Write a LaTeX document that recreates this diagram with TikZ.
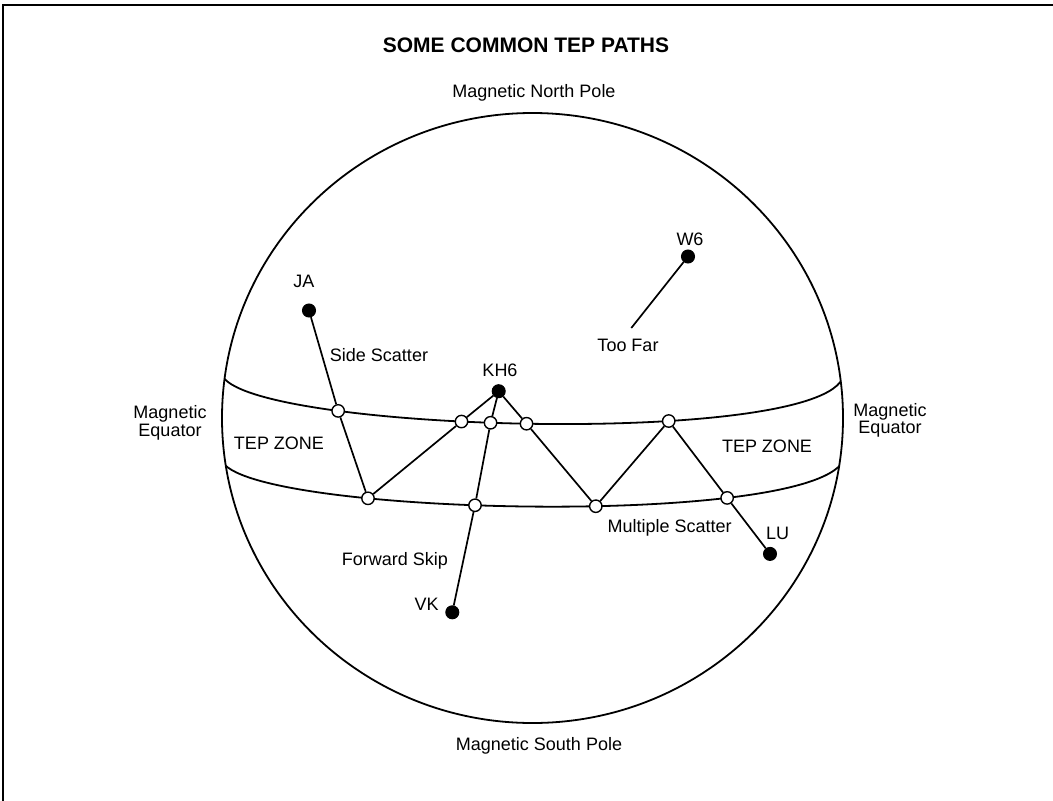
\documentclass[tikz,border=0pt]{standalone}
\usepackage{fontspec}
\setmainfont{Liberation Sans}
\begin{document}
\begin{tikzpicture}[x=1pt,y=-1pt,
  lbl/.style={font=\fontsize{18}{17.5}\selectfont, inner sep=0pt, anchor=base},
  ttl/.style={font=\bfseries\fontsize{21}{21}\selectfont, inner sep=0pt, anchor=base},
  station/.style={circle, fill=black, draw=black, line width=1pt, inner sep=0pt, minimum size=13pt},
  hop/.style={circle, fill=white, draw=black, line width=1.4pt, inner sep=0pt, minimum size=12.4pt},
  link/.style={line width=1.7pt},
  band/.style={line width=1.8pt},
  frame/.style={line width=2pt}]
\fill[white] (0,0) rectangle (1053,801);
\useasboundingbox (0,0) rectangle (1053,801);
\draw[frame] (3,801) -- (3,5) -- (1053,5);

\node[ttl] (title) at (526,52) {SOME COMMON TEP PATHS};
\node[lbl] (north) at (534,97.5) {Magnetic North Pole};
\node[lbl] (south) at (539,750) {Magnetic South Pole};

% globe
\draw[band] (532.5,418) ellipse [x radius=310.5pt, y radius=305pt];

% equator band (TEP zone)
\begin{scope}
  \clip (532.5,418) ellipse [x radius=310.5pt, y radius=305pt];
  \draw[band] (221,371) .. controls (221,432.4) and (844,450.1) .. (844,372)
    node[hop,pos=0.2773] (U1) {}
    node[hop,pos=0.4234] (U2) {}
    node[hop,pos=0.455] (U3) {}
    node[hop,pos=0.4936] (U4) {}
    node[hop,pos=0.6503] (U5) {};
  \draw[band] (221,457) .. controls (221,516.4) and (845,530.8) .. (845,454)
    node[hop,pos=0.3153] (L1) {}
    node[hop,pos=0.4377] (L2) {}
    node[hop,pos=0.5675] (L3) {}
    node[hop,pos=0.722] (L4) {};
\end{scope}

% stations
\node[station] (JA) at (309,310.5) {};
\node[station] (KH6) at (498.7,391.2) {};
\node[station] (W6) at (688,256.5) {};
\node[station] (VK) at (452.3,612.3) {};
\node[station] (LU) at (770,553.9) {};
\coordinate (far) at (631.3,328);

% paths
\draw[link] (JA) -- (U1) -- (L1) -- (U2) -- (KH6);
\draw[link] (KH6) -- (U3) -- (L2) -- (VK);
\draw[link] (KH6) -- (U4) -- (L3) -- (U5) -- (L4) -- (LU);
\draw[link] (W6) -- (far);

% labels
\node[lbl] (tJA) at (304,287) {JA};
\node[lbl] (tW6) at (690,245) {W6};
\node[lbl] (tFar) at (628,351) {Too Far};
\node[lbl] (tSide) at (379,361) {Side Scatter};
\node[lbl] (tKH6) at (500,376) {KH6};
\node[lbl] (tFwd) at (395,565) {Forward Skip};
\node[lbl] (tVK) at (426.7,610) {VK};
\node[lbl] (tMult) at (669.7,532.7) {Multiple Scatter};
\node[lbl] (tLU) at (777.7,539.3) {LU};
\node[lbl] (tz1) at (279,449.5) {TEP ZONE};
\node[lbl] (tz2) at (767,452.7) {TEP ZONE};
\node[lbl, align=center] (eqL) at (170,436) {Magnetic\\Equator};
\node[lbl, align=center] (eqR) at (890,433.5) {Magnetic\\Equator};
\end{tikzpicture}
\end{document}
